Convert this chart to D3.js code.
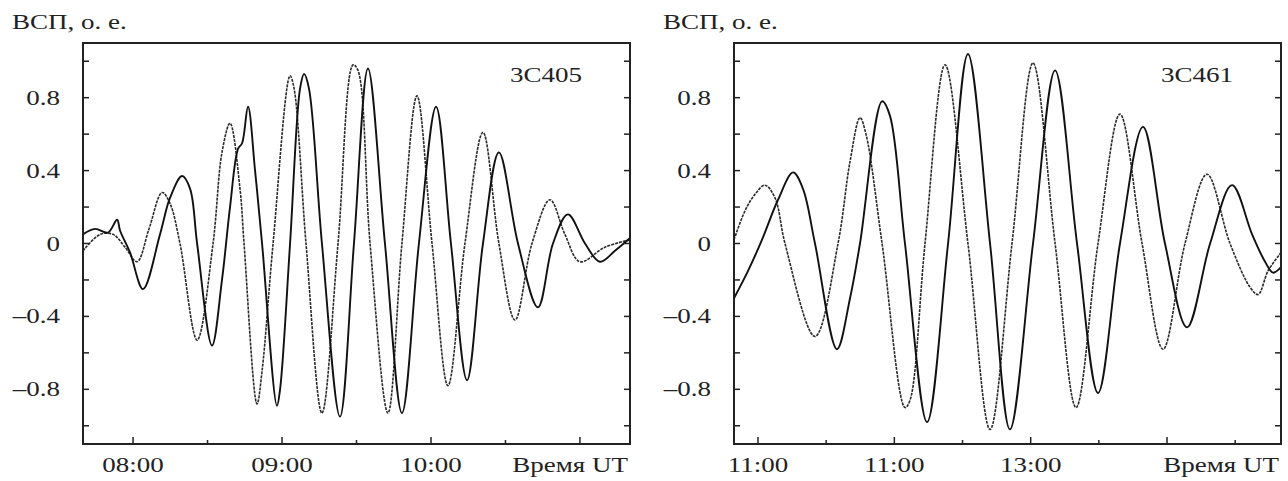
<!DOCTYPE html>
<html>
<head>
<meta charset="utf-8">
<script src="https://cdn.jsdelivr.net/npm/d3@7"></script>
<style>
  body { margin: 0; background: #fff; }
  svg { display: block; }
  text { font-family: "Liberation Serif", "Times New Roman", serif; fill: #222; }
</style>
</head>
<body>
<svg id="chart" width="1288" height="481"></svg>
<script>
// Ось Y (общая)
const yMajor = [-0.8, -0.4, 0, 0.4, 0.8];
const yMinor = [-1.0, -0.6, -0.2, 0.2, 0.6, 1.0];
const yLabels = ["–0.8", "–0.4", "0", "0.4", "0.8"];
const yTitle = "ВСП, о. е.";
const xTitle = "Время UT";

// 3C405: время (часы UT)
const xMajorA = [8, 9, 10, 11];
const xMinorA = [8.5, 9.5, 10.5];
const xLabelsA = ["08:00", "09:00", "10:00", ""];
const thinTimeA = [7.664, 7.779, 7.866, 7.946, 8.027, 8.107, 8.195, 8.248, 8.315, 8.430, 8.537, 8.597, 8.651, 8.718, 8.745,
  8.832, 8.866, 8.940, 9.054, 9.081, 9.161, 9.268, 9.376, 9.477, 9.510, 9.591, 9.711, 9.805, 9.906, 10.007,
  10.114, 10.228, 10.349, 10.456, 10.564, 10.678, 10.799, 10.899, 11.000, 11.168, 11.336];
const thinValA = [-0.04, 0.05, 0.05, -0.02, -0.10, 0.08, 0.28, 0.22, 0.0, -0.53, 0.0, 0.50, 0.66, 0.30, 0.0,
  -0.88, -0.70, 0.0, 0.92, 0.85, 0.0, -0.93, 0.0, 0.98, 0.95, 0.0, -0.93, 0.0, 0.81, 0.0,
  -0.78, 0.0, 0.61, 0.0, -0.42, 0.0, 0.24, 0.05, -0.10, -0.02, 0.02];
const thickTimeA = [7.664, 7.745, 7.832, 7.893, 7.913, 7.980, 8.067, 8.181, 8.248, 8.329, 8.383, 8.430, 8.530, 8.597,
  8.651, 8.705, 8.732, 8.772, 8.819, 8.866, 8.966, 8.987, 9.054, 9.121, 9.148, 9.181, 9.268, 9.389, 9.483,
  9.577, 9.691, 9.805, 9.919, 10.034, 10.134, 10.242, 10.349, 10.456, 10.584, 10.718, 10.819, 10.919,
  11.034, 11.134, 11.235, 11.336];
const thickValA = [0.05, 0.08, 0.06, 0.13, 0.07, -0.05, -0.25, 0.05, 0.25, 0.37, 0.30, 0.0, -0.56, -0.20,
  0.20, 0.52, 0.55, 0.75, 0.40, 0.0, -0.89, -0.80, 0.0, 0.85, 0.93, 0.85, 0.0, -0.95, 0.0,
  0.96, 0.0, -0.93, 0.0, 0.75, 0.0, -0.75, 0.0, 0.50, 0.0, -0.35, 0.0, 0.16,
  0.0, -0.10, -0.04, 0.03];

// 3C461
const xMajorB = [11, 12, 13, 14];
const xMinorB = [11.5, 12.5, 13.5, 14.5];
const xLabelsB = ["11:00", "11:00", "13:00", ""];
const thinTimeB = [10.824, 10.905, 10.978, 11.051, 11.125, 11.198, 11.418, 11.587, 11.675, 11.748, 11.792, 11.910,
  12.078, 12.115, 12.225, 12.372, 12.540, 12.702, 12.863, 13.017, 13.179, 13.333, 13.494, 13.655, 13.817,
  13.971, 14.132, 14.293, 14.462, 14.609, 14.668, 14.741, 14.836];
const thinValB = [0.02, 0.18, 0.27, 0.32, 0.25, 0.0, -0.51, 0.0, 0.45, 0.69, 0.60, 0.0,
  -0.90, -0.86, 0.0, 0.98, 0.0, -1.02, 0.0, 0.99, 0.0, -0.90, 0.0, 0.71, 0.0,
  -0.58, 0.0, 0.38, 0.0, -0.24, -0.28, -0.15, -0.05];
const thickTimeB = [10.824, 10.927, 11.029, 11.147, 11.257, 11.330, 11.418, 11.579, 11.675, 11.748, 11.910, 11.968,
  12.078, 12.240, 12.394, 12.540, 12.702, 12.848, 13.017, 13.179, 13.340, 13.494, 13.655, 13.824, 13.985,
  14.147, 14.316, 14.477, 14.624, 14.719, 14.778, 14.836];
const thickValB = [-0.30, -0.15, 0.02, 0.24, 0.39, 0.30, 0.0, -0.58, -0.30, 0.0, 0.78, 0.70,
  0.0, -0.98, 0.0, 1.04, 0.0, -1.02, 0.0, 0.95, 0.0, -0.82, 0.0, 0.64, 0.0,
  -0.46, 0.0, 0.32, 0.05, -0.10, -0.16, -0.13];

const svg = d3.select("#chart");
const TX = 1.35; // текст в скане растянут по горизонтали

function label(g, x, y, str, anchor) {
  g.append("text")
    .attr("transform", `translate(${x},${y}) scale(${TX},1)`)
    .attr("text-anchor", anchor)
    .style("font-size", "20px")
    .text(str);
}

function drawPanel(p) {
  const g = svg.append("g");
  const x = d3.scaleLinear().domain(p.xDomain).range([p.left, p.right]);
  const y = d3.scaleLinear().domain([-1.1, 1.1]).range([444, 43]);

  const line = d3.line()
    .x(d => x(d[0]))
    .y(d => y(d[1]))
    .curve(d3.curveCatmullRom.alpha(0.5));

  // тонкая кривая
  g.append("path")
    .datum(d3.zip(p.thinTime, p.thinVal))
    .attr("fill", "none")
    .attr("stroke", "#2a2a2a")
    .attr("stroke-width", 1.6)
    .attr("stroke-dasharray", "3,1")
    .attr("d", line);

  // толстая кривая
  g.append("path")
    .datum(d3.zip(p.thickTime, p.thickVal))
    .attr("fill", "none")
    .attr("stroke", "#111")
    .attr("stroke-width", 1.9)
    .attr("d", line);

  // рамка
  g.append("rect")
    .attr("x", p.left).attr("y", 43)
    .attr("width", p.right - p.left).attr("height", 401)
    .attr("fill", "none")
    .attr("stroke", "#222")
    .attr("stroke-width", 2);

  // засечки по Y (внутрь, слева и справа)
  const yt = yMajor.concat(yMinor);
  g.selectAll(".ytl").data(yt).enter().append("line")
    .attr("x1", p.left).attr("x2", p.left + 6)
    .attr("y1", d => y(d)).attr("y2", d => y(d))
    .attr("stroke", "#222").attr("stroke-width", 1.5);
  g.selectAll(".ytr").data(yt).enter().append("line")
    .attr("x1", p.right).attr("x2", p.right - 6)
    .attr("y1", d => y(d)).attr("y2", d => y(d))
    .attr("stroke", "#222").attr("stroke-width", 1.5);

  // засечки по X
  g.selectAll(".xt").data(p.xMajor).enter().append("line")
    .attr("x1", d => x(d)).attr("x2", d => x(d))
    .attr("y1", 444).attr("y2", 437)
    .attr("stroke", "#222").attr("stroke-width", 1.5);
  g.selectAll(".xm").data(p.xMinor).enter().append("line")
    .attr("x1", d => x(d)).attr("x2", d => x(d))
    .attr("y1", 444).attr("y2", 440)
    .attr("stroke", "#222").attr("stroke-width", 1.5);

  // подписи
  yMajor.forEach((v, i) => label(g, p.left - 23, y(v) + 7, yLabels[i], "end"));
  p.xMajor.forEach((v, i) => label(g, x(v), 472, p.xLabels[i], "middle"));
  label(g, p.right - 2, 472, xTitle, "end");
  label(g, p.left - 71, 29, yTitle, "start");
  label(g, p.right - 48, 82, p.name, "end");
}

drawPanel({
  name: "3C405", left: 83, right: 630, xDomain: [7.664, 11.336],
  xMajor: xMajorA, xMinor: xMinorA, xLabels: xLabelsA,
  thinTime: thinTimeA, thinVal: thinValA, thickTime: thickTimeA, thickVal: thickValA
});
drawPanel({
  name: "3C461", left: 734, right: 1281, xDomain: [10.824, 14.836],
  xMajor: xMajorB, xMinor: xMinorB, xLabels: xLabelsB,
  thinTime: thinTimeB, thinVal: thinValB, thickTime: thickTimeB, thickVal: thickValB
});
</script>
</body>
</html>
